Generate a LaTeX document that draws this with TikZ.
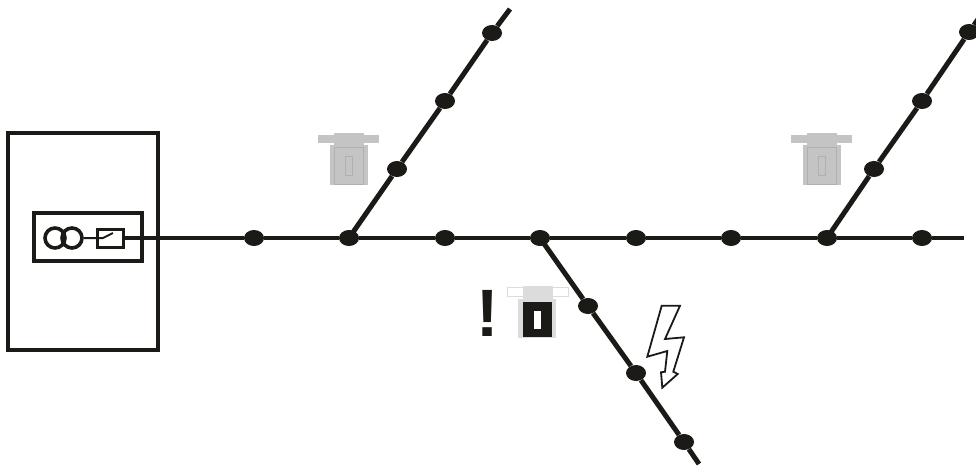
\documentclass[tikz,border=0pt]{standalone}
\usepackage{fontspec}
\setmainfont{Liberation Sans}
\usetikzlibrary{shapes.geometric}
\definecolor{linedark}{HTML}{1C1A17}
\definecolor{relaygray}{HTML}{C4C4C4}
\definecolor{relayedge}{HTML}{B0B0B0}
\definecolor{faultgray}{HTML}{DCDCDC}
\tikzset{
  pole/.style={ellipse, fill=linedark, draw=none, inner sep=0pt, minimum width=20pt, minimum height=16pt},
  feeder/.style={draw=linedark, line width=3.4pt},
  branch/.style={draw=linedark, line width=5pt},
  frame/.style={draw=linedark, line width=3.8pt},
  trafo/.style={circle, draw=linedark, line width=3.6pt, inner sep=0pt, minimum size=20pt},
}
\begin{document}
\begin{tikzpicture}[x=1pt, y=-1pt]
  \useasboundingbox (0,0) rectangle (976,466);
  % Subestacion
  \draw[frame] (8,133) rectangle (158,350);
  \draw[frame] (34,213) rectangle (142,261);
  \node[trafo] (trafoa) at (55,238) {};
  \node[trafo] (trafob) at (72,238) {};
  \node[rectangle, draw=linedark, line width=3pt, inner sep=0pt, minimum width=26pt, minimum height=18pt] (breaker) at (110.5,238) {};
  \draw[draw=linedark, line width=2pt] (trafob.east) -- (103,238) -- (113,233);
  % Linea principal
  \coordinate (feedend) at (964,238);
  \foreach \name/\xpos in {pa/254, pb/349, pc/445, pd/540, pe/636, pf/731, pg/827, ph/922}
    \node[pole] (\name) at (\xpos,238) {};
  \draw[feeder] (breaker.east) -- (pa) -- (pb) -- (pc) -- (pd) -- (pe) -- (pf) -- (pg) -- (ph) -- (feedend);
  % Ramales
  \node[pole] (qa) at (397,169) {};
  \node[pole] (qb) at (445,101) {};
  \node[pole] (qc) at (492,33) {};
  \coordinate (qend) at (510,9);
  \draw[branch] (pb.center) -- (qa) -- (qb) -- (qc) -- (qend);
  \node[pole] (ra) at (874,169) {};
  \node[pole] (rb) at (922,101) {};
  \node[pole] (rc) at (969,32) {};
  \coordinate (rend) at (986,8);
  \draw[branch] (pg.center) -- (ra) -- (rb) -- (rc) -- (rend);
  \node[pole] (sa) at (588,306) {};
  \node[pole] (sb) at (636,373) {};
  \node[pole] (sc) at (684,442) {};
  \coordinate (send) at (699,464);
  \draw[branch] (pd.center) -- (sa) -- (sb) -- (sc) -- (send);
  % Reconectadores abiertos
  \foreach \xoff in {0,473} {
    \begin{scope}[xshift=\xoff pt]
      \fill[relaygray] (318,135) rectangle (379,143);
      \fill[relaygray] (334,133) rectangle (364,145);
      \fill[relaygray] (330,145) rectangle (368,185);
      \draw[relayedge, line width=0.7pt] (334,147) rectangle (363,184);
      \draw[relayedge, line width=0.7pt] (345,156) rectangle (352,175);
    \end{scope}
  }
  % Reconectador con falla
  \draw[faultgray, line width=0.8pt] (507,287) rectangle (568,296);
  \fill[faultgray] (523,286) rectangle (553,299);
  \fill[faultgray] (518,299) rectangle (556,338);
  \fill[linedark] (523,302) rectangle (552,337);
  \fill[white] (534,311) rectangle (541,329);
  \node[font=\fontsize{67}{67}\selectfont\bfseries, text=linedark, inner sep=0pt] (alarm) at (488,313) {!};
  % Rayo
  \draw[draw=linedark, fill=white, line width=1.8pt, line join=miter]
    (661.7,305.7) -- (680,305.7) -- (665,339) -- (684,337.3) -- (673.3,371.7) -- (677.7,374)
    -- (662.3,387.7) -- (661,372.3) -- (665,371.7) -- (667.3,351) -- (647.3,356.7) -- cycle;
\end{tikzpicture}
\end{document}
